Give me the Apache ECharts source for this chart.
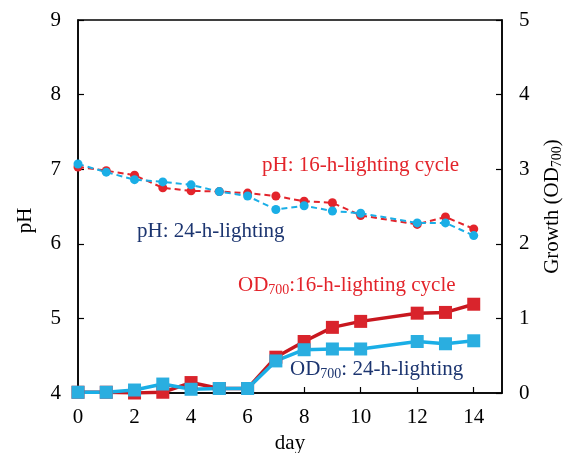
<!DOCTYPE html>
<html>
<head>
<meta charset="utf-8">
<script src="https://cdn.jsdelivr.net/npm/echarts@6/dist/echarts.min.js"></script>
<style>
  html, body { margin: 0; padding: 0; background: #fff; }
  #chart { width: 575px; height: 453px; }
</style>
</head>
<body>
<div id="chart"></div>
<script>
// days sampled (no day 11)
const days = [0, 1, 2, 3, 4, 5, 6, 7, 8, 9, 10, 12, 13, 14];

// pH values
const ph16 = [7.03, 6.98, 6.92, 6.75, 6.71, 6.70, 6.68, 6.64, 6.57, 6.55, 6.38, 6.26, 6.36, 6.20];
const ph24 = [7.07, 6.96, 6.86, 6.83, 6.79, 6.70, 6.64, 6.46, 6.51, 6.44, 6.41, 6.28, 6.28, 6.11];

// growth OD700
const od16 = [0.01, 0.01, 0.00, 0.01, 0.14, 0.06, 0.06, 0.48, 0.69, 0.88, 0.96, 1.07, 1.08, 1.19];
const od24 = [0.01, 0.01, 0.04, 0.12, 0.05, 0.06, 0.06, 0.43, 0.58, 0.59, 0.59, 0.69, 0.66, 0.70];

const pair = (ys) => days.map((d, i) => [d, ys[i]]);

const chart = echarts.init(document.getElementById('chart'));
const font = 'Liberation Serif';
const red = '#e3242b';
const darkRed = '#c8171f';
const blue = '#1aaee6';
const navy = '#1c3570';

const axisCommon = {
  axisLine: { show: true, lineStyle: { color: '#000', width: 1.5 } },
  axisTick: { show: true, inside: true, length: 6, lineStyle: { color: '#000', width: 1.2 } },
  splitLine: { show: false },
  axisLabel: { color: '#000', fontFamily: font, fontSize: 21, margin: 17 },
  nameTextStyle: { color: '#000', fontFamily: font, fontSize: 21 }
};

// rich styles for the subscript "700"; axis names use color, graphic text uses fill
const sub = (c) => ({
  n: { color: c, fontFamily: font, fontSize: 21 },
  s: { color: c, fontFamily: font, fontSize: 14, verticalAlign: 'bottom', padding: [9, 0, 0, 0] }
});
const subFill = (c) => ({
  n: { fill: c, fontFamily: font, fontSize: 21 },
  s: { fill: c, fontFamily: font, fontSize: 14, verticalAlign: 'bottom', padding: [9, 0, 0, 0] }
});

chart.setOption({
  animation: false,
  backgroundColor: '#fff',
  grid: {
    left: 78, right: 73, top: 20, bottom: 60, outerBoundsMode: 'none',
    show: true, borderColor: '#000', borderWidth: 1.5
  },
  xAxis: Object.assign({}, axisCommon, {
    type: 'value', min: 0, max: 15, interval: 2,
    name: 'day', nameLocation: 'middle', nameGap: 39,
    axisLabel: Object.assign({}, axisCommon.axisLabel, { margin: 14, showMaxLabel: false })
  }),
  yAxis: [
    Object.assign({}, axisCommon, {
      type: 'value', min: 4, max: 9, interval: 1, position: 'left',
      name: 'pH', nameLocation: 'middle', nameGap: 42, nameRotate: 90,
      nameTextStyle: { color: '#000', fontFamily: font, fontSize: 21, padding: [0, 28, 0, 0] }
    }),
    Object.assign({}, axisCommon, {
      type: 'value', min: 0, max: 5, interval: 1, position: 'right',
      name: '{n|Growth (OD}{s|700}{n|)}', nameLocation: 'middle', nameGap: 39, nameRotate: 90,
      nameTextStyle: { color: '#000', fontFamily: font, fontSize: 21, rich: sub('#000') }
    })
  ],
  series: [
    {
      name: 'pH 16h', type: 'line', yAxisIndex: 0, data: pair(ph16),
      symbol: 'circle', symbolSize: 9,
      lineStyle: { color: red, width: 2, type: [6, 4] },
      itemStyle: { color: red }
    },
    {
      name: 'pH 24h', type: 'line', yAxisIndex: 0, data: pair(ph24),
      symbol: 'circle', symbolSize: 9,
      lineStyle: { color: blue, width: 2, type: [6, 4] },
      itemStyle: { color: blue }
    },
    {
      name: 'OD 16h', type: 'line', yAxisIndex: 1, data: pair(od16),
      symbol: 'rect', symbolSize: 13,
      lineStyle: { color: darkRed, width: 3.5 },
      itemStyle: { color: '#d9242c' }
    },
    {
      name: 'OD 24h', type: 'line', yAxisIndex: 1, data: pair(od24),
      symbol: 'rect', symbolSize: 13,
      lineStyle: { color: blue, width: 3.5 },
      itemStyle: { color: '#2aaee0' }
    }
  ],
  graphic: [
    {
      type: 'text', left: 262, top: 155,
      style: { text: 'pH: 16-h-lighting cycle', fill: red, font: '21px "Liberation Serif"' }
    },
    {
      type: 'text', left: 137, top: 221,
      style: { text: 'pH: 24-h-lighting', fill: navy, font: '21px "Liberation Serif"' }
    },
    {
      type: 'text', left: 238, top: 275,
      style: { text: '{n|OD}{s|700}{n|:16-h-lighting cycle}', fill: red, rich: subFill(red) }
    },
    {
      type: 'text', left: 290, top: 359,
      style: { text: '{n|OD}{s|700}{n|: 24-h-lighting}', fill: navy, rich: subFill(navy) }
    }
  ]
});
</script>
</body>
</html>
